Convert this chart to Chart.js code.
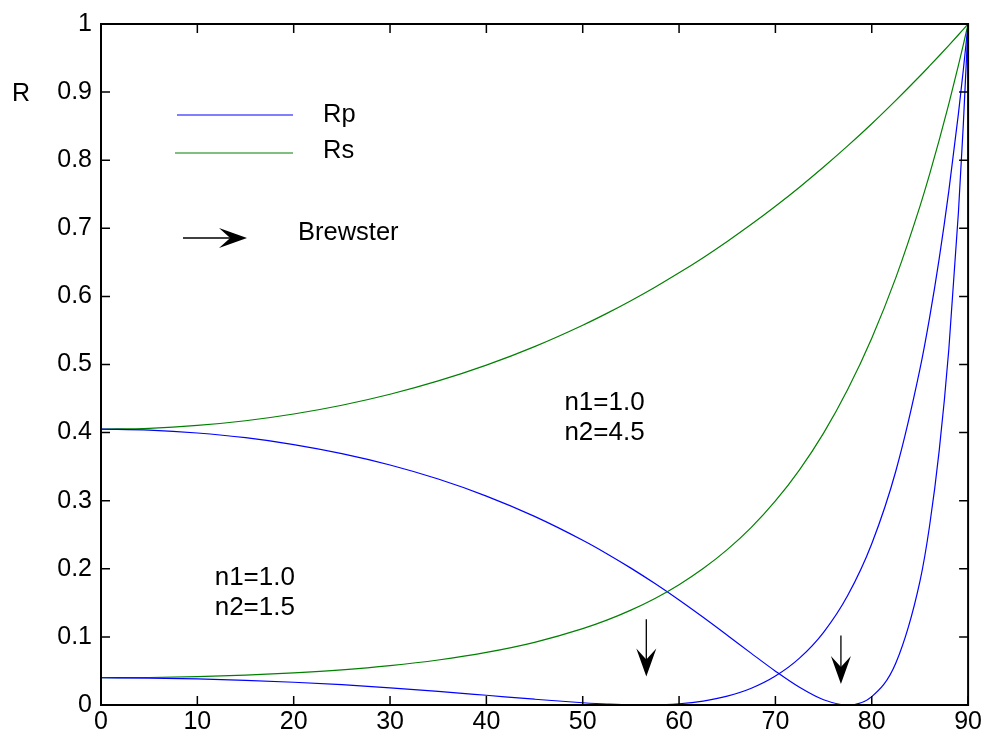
<!DOCTYPE html>
<html>
<head>
<meta charset="utf-8">
<script src="https://cdn.jsdelivr.net/npm/chart.js@4"></script>
<style>
html,body{margin:0;padding:0;background:#fff;}
#wrap{width:984px;height:740px;}
</style>
</head>
<body>
<div id="wrap"><canvas id="c" width="984" height="740"></canvas></div>
<script>
// Angle of incidence (degrees)
const angles = [0,5,10,15,20,25,30,35,40,45,50,52.5,55,57.5,60,62.5,65,67.5,70,72.5,75,77.5,80,82.5,85,86,87,88,89,89.5,90];
// n1=1.0, n2=1.5
const rpLow = [0.040,0.0396,0.0384,0.0363,0.0334,0.0298,0.0252,0.0200,0.0143,0.0085,0.0033,0.0013,0.0002,0.0002,0.0018,0.0058,0.0130,0.0246,0.0425,0.0688,0.1068,0.1608,0.2369,0.3436,0.4931,0.5686,0.6555,0.7550,0.8688,0.9321,1.0];
const rsLow = [0.040,0.0404,0.0417,0.0438,0.0471,0.0516,0.0578,0.0661,0.0772,0.0920,0.1121,0.1246,0.1393,0.1564,0.1766,0.2003,0.2281,0.2608,0.2996,0.3454,0.3993,0.4633,0.5387,0.6276,0.7322,0.7791,0.8294,0.8827,0.9395,0.9693,1.0];
// n1=1.0, n2=4.5
const rpHigh = [0.405,0.4036,0.3994,0.3925,0.3824,0.3691,0.3524,0.3318,0.3068,0.2770,0.2419,0.2222,0.2010,0.1783,0.1542,0.1288,0.1025,0.0758,0.0497,0.0260,0.0077,0.0000,0.0123,0.0617,0.1816,0.2629,0.3735,0.5223,0.7243,0.8511,1.0];
const rsHigh = [0.405,0.4063,0.4105,0.4174,0.4273,0.4402,0.4563,0.4759,0.4991,0.5263,0.5577,0.5751,0.5937,0.6135,0.6346,0.6569,0.6807,0.7058,0.7324,0.7604,0.7900,0.8210,0.8536,0.8879,0.9236,0.9384,0.9534,0.9687,0.9842,0.9921,1.0];

const xTicks = [0,10,20,30,40,50,60,70,80,90];
const xTickLabels = ['0','10','20','30','40','50','60','70','80','90'];
const yTicks = [0,0.1,0.2,0.3,0.4,0.5,0.6,0.7,0.8,0.9,1];
const yTickLabels = ['0','0.1','0.2','0.3','0.4','0.5','0.6','0.7','0.8','0.9','1'];

// Brewster arrows: [angle, y top, y tip]
const brewsterArrows = [[56.6,0.126,0.042],[76.8,0.102,0.031]];
// Text annotations: [angle, R, text lines]
const notes = [[11.8,0.187,['n1=1.0','n2=1.5']],[48.1,0.443,['n1=1.0','n2=4.5']]];

const BLUE = '#0000ff', GREEN = '#008000';
const FONT = '"Liberation Sans", Arial, sans-serif';

function pts(ys){ return angles.map((a,i)=>({x:a,y:ys[i]})); }
function ds(ys,color){
  return {data:pts(ys),borderColor:color,borderWidth:1.2,pointRadius:0,fill:false,cubicInterpolationMode:'monotone'};
}

function arrowHead(ctx,tx,ty,dx,dy,len,half){
  const px=-dy, py=dx;
  const bx=tx-dx*len, by=ty-dy*len;
  const nx=tx-dx*len*0.6, ny=ty-dy*len*0.6;
  ctx.beginPath();
  ctx.moveTo(tx,ty);
  ctx.lineTo(bx+px*half,by+py*half);
  ctx.lineTo(nx,ny);
  ctx.lineTo(bx-px*half,by-py*half);
  ctx.closePath();
  ctx.fill();
}

const decor = {
  id:'decor',
  afterDatasetsDraw(chart){
    const ctx=chart.ctx, a=chart.chartArea, xs=chart.scales.x, ys=chart.scales.y;
    ctx.save();
    ctx.strokeStyle='#000'; ctx.lineWidth=2;
    ctx.strokeRect(a.left,a.top,a.right-a.left,a.bottom-a.top);
    const tl=9;
    ctx.lineWidth=1.5;
    ctx.beginPath();
    xTicks.forEach(v=>{
      const p=xs.getPixelForValue(v);
      ctx.moveTo(p,a.bottom); ctx.lineTo(p,a.bottom-tl);
      ctx.moveTo(p,a.top); ctx.lineTo(p,a.top+tl);
    });
    yTicks.forEach(v=>{
      const p=ys.getPixelForValue(v);
      ctx.moveTo(a.left,p); ctx.lineTo(a.left+tl,p);
      ctx.moveTo(a.right,p); ctx.lineTo(a.right-tl,p);
    });
    ctx.stroke();
    ctx.fillStyle='#000';
    ctx.font='25px '+FONT;
    ctx.textAlign='left'; ctx.textBaseline='middle';
    ctx.fillText('R',12,94);
    ctx.lineWidth=1.2;
    ctx.strokeStyle=BLUE; ctx.beginPath(); ctx.moveTo(177,115); ctx.lineTo(293,115); ctx.stroke();
    ctx.strokeStyle=GREEN; ctx.beginPath(); ctx.moveTo(175,153); ctx.lineTo(293,153); ctx.stroke();
    ctx.fillStyle='#000';
    ctx.font='25.5px '+FONT;
    ctx.fillText('Rp',323,115);
    ctx.fillText('Rs',323,151);
    ctx.fillText('Brewster',298,233);
    ctx.strokeStyle='#000'; ctx.lineWidth=1.3;
    ctx.beginPath(); ctx.moveTo(183,238); ctx.lineTo(232,238); ctx.stroke();
    arrowHead(ctx,247,238,1,0,28,10);
    brewsterArrows.forEach(([ang,y0,y1])=>{
      const x=xs.getPixelForValue(ang), t=ys.getPixelForValue(y0), b=ys.getPixelForValue(y1);
      ctx.beginPath(); ctx.moveTo(x,t); ctx.lineTo(x,b-14); ctx.stroke();
      arrowHead(ctx,x,b,0,1,28,10);
    });
    ctx.font='26px '+FONT;
    notes.forEach(([ang,r,lines])=>{
      const x=xs.getPixelForValue(ang), y=ys.getPixelForValue(r);
      lines.forEach((s,i)=>ctx.fillText(s,x,y+i*30));
    });
    ctx.restore();
  }
};

new Chart(document.getElementById('c'),{
  type:'line',
  data:{datasets:[ds(rpLow,BLUE),ds(rsLow,GREEN),ds(rpHigh,BLUE),ds(rsHigh,GREEN)]},
  options:{
    responsive:false,animation:false,
    layout:{padding:{top:21,right:15,left:0,bottom:0}},
    plugins:{legend:{display:false},tooltip:{enabled:false}},
    scales:{
      x:{type:'linear',min:0,max:90,
        afterFit(s){s.height=35;},
        afterBuildTicks(s){s.ticks=xTicks.map(v=>({value:v}));},
        grid:{display:false,drawTicks:false},border:{display:false},
        ticks:{autoSkip:false,maxRotation:0,padding:2,color:'#000',font:{family:FONT,size:25},
          callback:(v,i)=>xTickLabels[i]}},
      y:{type:'linear',min:0,max:1,
        afterFit(s){s.width=101;},
        afterBuildTicks(s){s.ticks=yTicks.map(v=>({value:v}));},
        grid:{display:false,drawTicks:false},border:{display:false},
        ticks:{autoSkip:false,padding:9,color:'#000',font:{family:FONT,size:25},
          callback:(v,i)=>yTickLabels[i]}}
    }
  },
  plugins:[decor]
});
</script>
</body>
</html>
